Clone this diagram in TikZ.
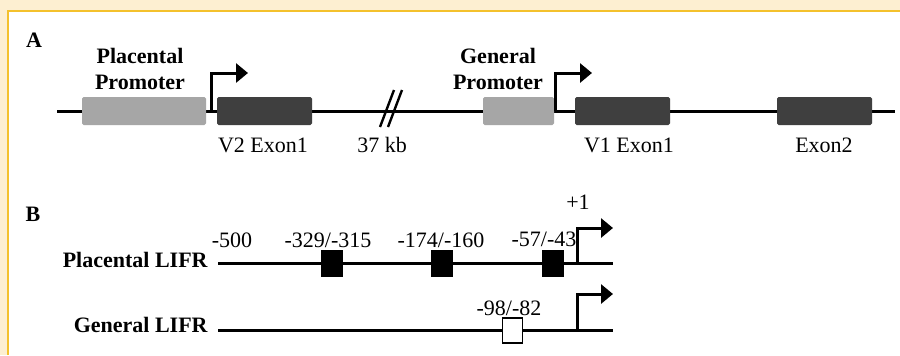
\documentclass[tikz,border=0pt]{standalone}
\usepackage{fontspec}
\setmainfont{Liberation Serif}
\usetikzlibrary{arrows.meta}
\definecolor{pagebg}{HTML}{FDEFD1}
\definecolor{frameline}{HTML}{F4C12C}
\definecolor{promgray}{HTML}{A6A6A6}
\definecolor{exongray}{HTML}{3F3F3F}

\begin{document}
\begin{tikzpicture}[x=0.5pt,y=-0.5pt,
	font=\fontsize{11}{13}\selectfont,
	dna/.style={line width=1.5pt},
	promoter/.style={fill=promgray,rounded corners=0.8pt,minimum height=14pt,inner sep=0pt},
	exon/.style={fill=exongray,rounded corners=0.8pt,minimum width=47.5pt,minimum height=14pt,inner sep=0pt},
	tss/.style={line width=1.5pt,-{Triangle[length=6pt,width=9.5pt]}},
	site/.style={draw,line width=0.8pt,minimum width=10pt,minimum height=12.5pt,inner sep=0pt},
	lbl/.style={anchor=base,inner sep=0pt},
	title/.style={inner sep=0pt,font=\fontsize{11}{13}\selectfont\bfseries}]
	
	\useasboundingbox (0,0) rectangle (900,355);
	
	% Frame
	\fill[pagebg] (0,0) rectangle (900,355);
	\fill[white] (7.7,11) rectangle (900,355);
	\draw[frameline,line width=1pt] (7.7,355) -- (7.7,11) -- (900,11);
	
	% Panel A: gene structure
	\node[title] (labA) at (34,40) {A};
	\coordinate (dnaA1) at (57,111);
	\coordinate (dnaA2) at (895,111);
	\draw[dna] (dnaA1) -- (dnaA2);
	
	\node[promoter,minimum width=62pt] (plprom) at (144,111) {};
	\node[exon] (v2ex) at (264.5,111) {};
	\node[promoter,minimum width=35.5pt] (genprom) at (518.5,111) {};
	\node[exon] (v1ex) at (622.5,111) {};
	\node[exon] (ex2) at (824.5,111) {};
	
	% break in the line
	\draw[line width=1.2pt] (380,127) -- (394,90) (388,127) -- (402,90);
	
	% transcription starts
	\coordinate (tssV2) at (211,111);
	\coordinate (tssV2tip) at (248,73);
	\draw[tss] (tssV2) |- (tssV2tip);
	\coordinate (tssV1) at (555,111);
	\coordinate (tssV1tip) at (592,73);
	\draw[tss] (tssV1) |- (tssV1tip);
	
	\node[title,align=center] (plpromlbl) at (140,68.5) {Placental\\Promoter};
	\node[title,align=center] (genpromlbl) at (498,68.5) {General\\Promoter};
	\node[lbl] (v2lbl) at (263,152) {V2 Exon1};
	\node[lbl] (brklbl) at (382,152) {37 kb};
	\node[lbl] (v1lbl) at (629,152) {V1 Exon1};
	\node[lbl] (ex2lbl) at (824,152) {Exon2};
	
	% Panel B: promoter sites
	\node[title] (labB) at (33,214) {B};
	\node[title,anchor=base east] (plLIFR) at (208,267) {Placental LIFR};
	\node[title,anchor=base east] (genLIFR) at (208,332) {General LIFR};
	
	\coordinate (plL1) at (218,263);
	\coordinate (plL2) at (613,263);
	\coordinate (genL1) at (218,330);
	\coordinate (genL2) at (613,330);
	\draw[dna] (plL1) -- (plL2);
	\draw[dna] (genL1) -- (genL2);
	
	\node[site,fill=black] (s329) at (332,263.5) {};
	\node[site,fill=black] (s174) at (442,263.5) {};
	\node[site,fill=black] (s57) at (553,263.5) {};
	\node[site,fill=white] (s98) at (512.5,330.5) {};
	
	\coordinate (tssPl) at (577,263);
	\coordinate (tssPltip) at (613,228);
	\draw[tss] (tssPl) |- (tssPltip);
	\coordinate (tssGen) at (577,330);
	\coordinate (tssGentip) at (613,294);
	\draw[tss] (tssGen) |- (tssGentip);
	
	\node[lbl] (l500) at (232,247) {-500};
	\node[lbl] (l329) at (328,247) {-329/-315};
	\node[lbl] (l174) at (441,247) {-174/-160};
	\node[lbl] (l57) at (544,246) {-57/-43};
	\node[lbl] (lplus) at (578,209) {+1};
	\node[lbl] (l98) at (509,315) {-98/-82};
\end{tikzpicture}
\end{document}
